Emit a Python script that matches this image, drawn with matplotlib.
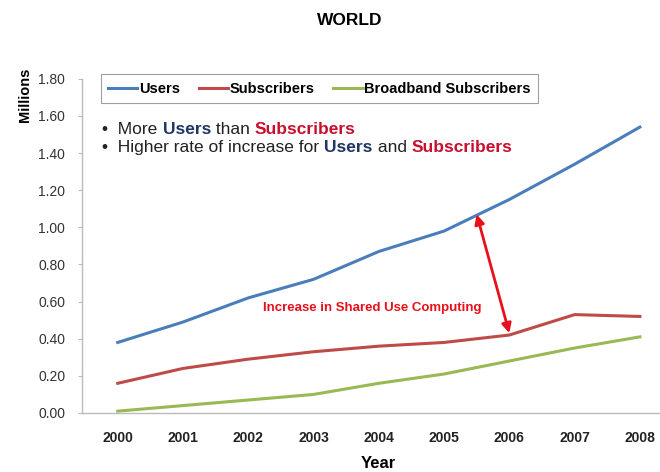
import matplotlib.pyplot as plt

plt.rcParams['font.family'] = ['Liberation Sans', 'DejaVu Sans']

years = ['2000', '2001', '2002', '2003', '2004', '2005', '2006', '2007', '2008']
users = [0.38, 0.49, 0.62, 0.72, 0.87, 0.98, 1.15, 1.34, 1.54]
subscribers = [0.16, 0.24, 0.29, 0.33, 0.36, 0.38, 0.42, 0.53, 0.52]
broadband = [0.01, 0.04, 0.07, 0.10, 0.16, 0.21, 0.28, 0.35, 0.41]

c_users = '#4A7EBB'
c_subs = '#BE4B48'
c_bb = '#98B954'
navy = '#1F3864'
red_txt = '#C8102E'

fig = plt.figure(figsize=(6.6, 4.72), dpi=100)
ax = fig.add_axes([0.124, 0.125, 0.89, 0.708])

x = list(range(len(years)))
ax.plot(x, users, color=c_users, lw=2.2, label='Users')
ax.plot(x, subscribers, color=c_subs, lw=2.2, label='Subscribers')
ax.plot(x, broadband, color=c_bb, lw=2.2, label='Broadband Subscribers')

ax.set_xlim(-0.55, 8.45)
ax.set_ylim(0, 1.8)
ax.set_xticks(x)
ax.set_xticklabels(years, fontsize=10, fontweight='bold', color='#222222')
ax.set_yticks([i * 0.2 for i in range(10)])
ax.set_yticklabels(['%.2f' % (i * 0.2) for i in range(10)], fontsize=10, color='#333333')
ax.tick_params(axis='x', length=0, pad=13)
ax.tick_params(axis='y', length=3, color='#BBBBBB', pad=9)
for s in ['top', 'right']:
    ax.spines[s].set_visible(False)
for s in ['left', 'bottom']:
    ax.spines[s].set_color('#BBBBBB')
    ax.spines[s].set_linewidth(1.0)

leg = ax.legend(loc='upper left', bbox_to_anchor=(0.02, 1.035), ncol=3, frameon=True,
                fancybox=False, edgecolor='#888888', prop={'weight': 'bold', 'size': 10.5},
                handlelength=2.0, handletextpad=0.1, columnspacing=1.3, borderpad=0.5)
leg.get_frame().set_linewidth(0.8)

# bullet lines with mixed colours
def chain(parts, x0, y0):
    prev = None
    for txt, col, wt in parts:
        if prev is None:
            prev = ax.text(x0, y0, txt, color=col, fontweight=wt, fontsize=12.5,
                           transform=ax.transAxes, va='baseline')
        else:
            prev = ax.annotate(txt, xy=(1, 0), xycoords=prev, va='bottom', ha='left',
                               color=col, fontweight=wt, fontsize=12.5)

chain([('\u2022  More ', '#222222', 'normal'), ('Users', navy, 'bold'), (' than ', '#222222', 'normal'),
       ('Subscribers', red_txt, 'bold')], 0.035, 0.835)
chain([('\u2022  Higher rate of increase for ', '#222222', 'normal'), ('Users', navy, 'bold'),
       (' and ', '#222222', 'normal'), ('Subscribers', red_txt, 'bold')], 0.035, 0.78)

ax.annotate('', xy=(5.5, 1.07), xytext=(6.0, 0.43),
            arrowprops=dict(arrowstyle='<|-|>', color='#E8101A', lw=2, mutation_scale=14,
                            shrinkA=0, shrinkB=0))
ax.text(3.9, 0.565, 'Increase in Shared Use Computing', color='#E8101A', fontsize=9.5,
        fontweight='bold', ha='center', va='center')

fig.text(0.53, 0.957, 'WORLD', ha='center', va='center', fontsize=12.5, fontweight='bold')
fig.text(0.038, 0.80, 'Millions', rotation=90, ha='center', va='center', fontsize=10.5, fontweight='bold')
fig.text(0.573, 0.017, 'Year', ha='center', va='center', fontsize=12, fontweight='bold')

fig.savefig('out.png', dpi=100)
